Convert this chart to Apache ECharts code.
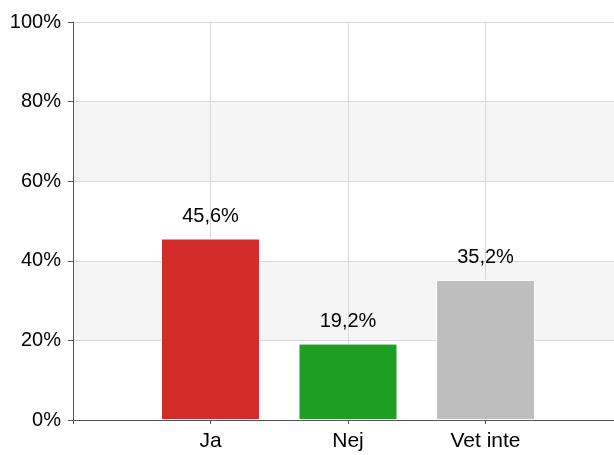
<!DOCTYPE html>
<html><head><meta charset="utf-8">
<script src="https://cdn.jsdelivr.net/npm/echarts@6/dist/echarts.min.js"></script>
<style>html,body{margin:0;padding:0;background:#fff;overflow:hidden}#c{width:614px;height:455px}</style>
</head><body><div id="c"></div>
<script>
var categories = ['Ja', 'Nej', 'Vet inte'];
var values = [45.6, 19.2, 35.2];
var colors = ['#d42b2b', '#1f9e24', '#bebebe'];
var yTicks = [0, 20, 40, 60, 80, 100];

var chart = echarts.init(document.getElementById('c'), null, {renderer: 'canvas'});
var font = 'Liberation Sans, Arial, sans-serif';
chart.setOption({
  animation: false,
  grid: {left: 73, top: 22, height: 398, width: 550, containLabel: false, outerBoundsMode: 'none'},
  xAxis: {
    type: 'value', min: 0, max: categories.length + 1, interval: 1,
    axisLine: {show: true, lineStyle: {color: '#555', width: 1}},
    axisTick: {show: true, length: 4, lineStyle: {color: '#555'}},
    axisLabel: {
      color: '#000', fontSize: 21, fontFamily: font, margin: 11,
      formatter: function (v) { return categories[v - 1] || ''; }
    },
    splitLine: {show: true, lineStyle: {color: '#d9d9d9'}}
  },
  yAxis: {
    type: 'value', min: yTicks[0], max: yTicks[yTicks.length - 1], interval: 20,
    axisLine: {show: true, lineStyle: {color: '#555', width: 1}},
    axisTick: {show: true, length: 5, lineStyle: {color: '#555'}},
    axisLabel: {color: '#000', fontSize: 20, fontFamily: font, margin: 12, formatter: '{value}%'},
    splitLine: {show: true, lineStyle: {color: '#d9d9d9'}},
    splitArea: {show: true, areaStyle: {color: ['#ffffff', '#f5f5f5']}}
  },
  series: [{
    type: 'bar',
    barWidth: 99,
    data: values.map(function (v, i) {
      return {value: [i + 1, v], itemStyle: {color: colors[i]}};
    }),
    itemStyle: {borderColor: '#fff', borderWidth: 1},
    label: {
      show: true, position: 'top', distance: 12,
      color: '#000', fontSize: 20, fontFamily: font,
      formatter: function (p) { return p.value[1].toFixed(1).replace('.', ',') + '%'; }
    }
  }]
});
</script></body></html>
